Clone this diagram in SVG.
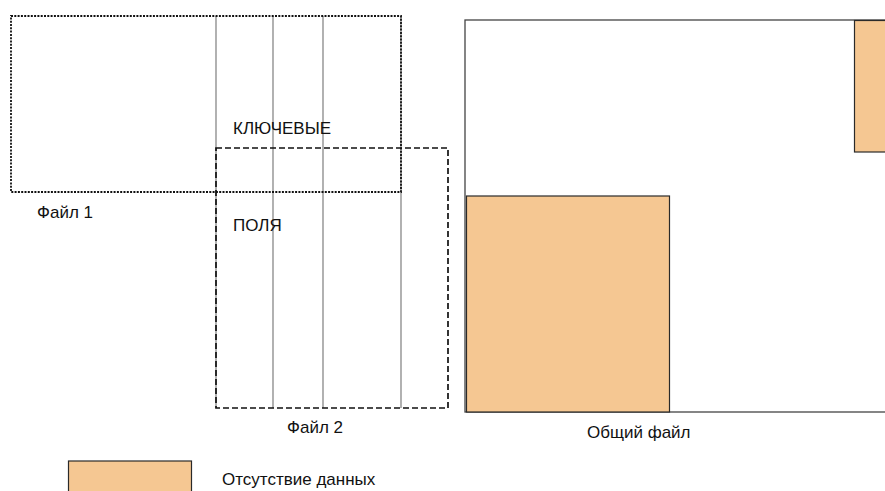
<svg xmlns="http://www.w3.org/2000/svg" width="885" height="491" viewBox="0 0 885 491">
  <style>
    .lbl { font-family: "Liberation Sans", Arial, sans-serif; font-size: 17px; fill: #111; }
    .col { stroke: #888; stroke-width: 1.3; fill: none; }
    .gap { fill: #F5C792; stroke: #2a2a2a; stroke-width: 1.2; }
  </style>
  <rect width="885" height="491" fill="#fff"/>

  <!-- key field columns shared by both files -->
  <g id="columns">
    <line class="col" x1="216" y1="16" x2="216" y2="408"/>
    <line class="col" x1="273" y1="16" x2="273" y2="408"/>
    <line class="col" x1="323" y1="16" x2="323" y2="408"/>
    <line class="col" x1="401" y1="16" x2="401" y2="408"/>
  </g>

  <g id="file1">
    <rect x="11" y="16" width="390" height="176" fill="none" stroke="#111" stroke-width="1.8" stroke-dasharray="2 1.3"/>
    <text class="lbl" x="37" y="218">Файл 1</text>
  </g>

  <g id="file2">
    <rect x="216" y="148" width="232" height="260" fill="none" stroke="#111" stroke-width="1.7" stroke-dasharray="6 3"/>
    <text class="lbl" x="287" y="433">Файл 2</text>
  </g>

  <g id="key-fields">
    <text class="lbl" x="233" y="134">КЛЮЧЕВЫЕ</text>
    <text class="lbl" x="233" y="231">ПОЛЯ</text>
  </g>

  <g id="merged">
    <rect x="465" y="20" width="430" height="392" fill="#fff" stroke="#444" stroke-width="1.3"/>
    <rect class="gap" x="466.5" y="196" width="203" height="216"/>
    <rect class="gap" x="854.5" y="20.5" width="40" height="131.5"/>
    <text class="lbl" x="587" y="438">Общий файл</text>
  </g>

  <g id="legend">
    <rect class="gap" x="68.5" y="461" width="123" height="40" stroke="#7a6a55"/>
    <text class="lbl" x="222" y="485">Отсутствие данных</text>
  </g>
</svg>
